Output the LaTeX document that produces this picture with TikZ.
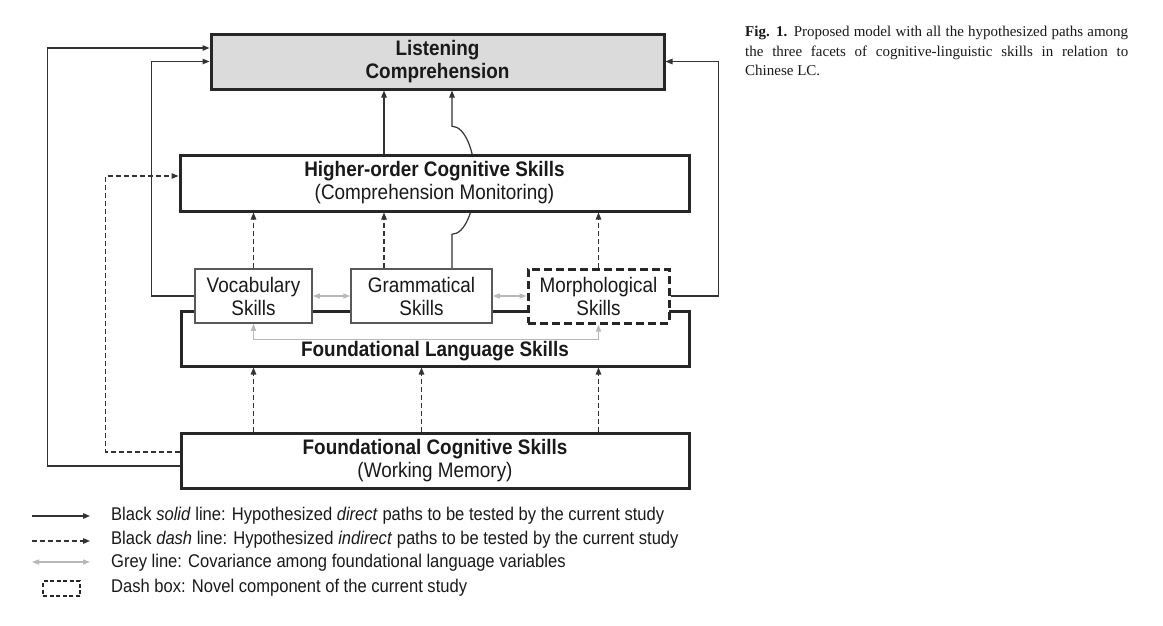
\documentclass[tikz,border=0pt]{standalone}
\usepackage{fontspec}
\setmainfont{Liberation Serif}
\newfontfamily\arialc[FakeStretch=0.9]{Liberation Sans}
\usetikzlibrary{arrows.meta}
\pgfdeclarelayer{bg}
\pgfsetlayers{bg,main}
\newcommand\mybxfont{\arialc\fontsize{21}{23}\selectfont}
\newcommand\mylgfont{\arialc\fontsize{18.4}{21}\selectfont}
\tikzset{
  tip/.tip={Triangle[length=7pt,width=5.5pt]},
  conn/.style={line width=1.2pt, draw=black!80, -tip},
  dconn/.style={conn, dash pattern=on 5pt off 3pt},
  gconn/.style={line width=1.3pt, draw=black!28, {Triangle[length=7pt,width=5pt]}-{Triangle[length=7pt,width=5pt]}},
  bigbox/.style={draw=black!85, line width=3pt, fill=white, inner sep=0pt, align=center, font=\mybxfont, text=black!90},
  smallbox/.style={draw=black!65, line width=1.5pt, fill=white, inner sep=0pt, align=center, font=\mybxfont, text=black!90, minimum height=54pt},
  novelbox/.style={smallbox, draw=black!85, line width=3pt, dash pattern=on 8pt off 4pt},
  lgtext/.style={anchor=west, inner sep=0pt, font=\mylgfont, text=black!90}
}
\begin{document}
\begin{tikzpicture}[x=1pt,y=-1pt]
\useasboundingbox (0,0) rectangle (1163,625);

% main boxes
\node[bigbox, fill=black!14, minimum width=453pt, minimum height=55pt] (LC) at (437.5,61.5) {\bfseries Listening\\\bfseries Comprehension};
\node[bigbox, minimum width=509pt, minimum height=56pt] (HO) at (434.5,183) {\bfseries Higher-order Cognitive Skills\\(Comprehension Monitoring)};
\node[bigbox, minimum width=508pt, minimum height=55pt] (FL) at (435,338.5) {};
\node[font=\mybxfont\bfseries, text=black!90, inner sep=0pt] (FLtext) at (435,351) {Foundational Language Skills};
\node[bigbox, minimum width=508pt, minimum height=55pt] (FC) at (435,460.5) {\bfseries Foundational Cognitive Skills\\(Working Memory)};

% language skill boxes
\node[smallbox, minimum width=117pt] (V) at (253.5,296) {Vocabulary\\Skills};
\node[smallbox, minimum width=141pt] (G) at (421.5,296) {Grammatical\\Skills};
\node[novelbox, minimum width=141pt] (M) at (598.5,296) {Morphological\\Skills};

% column coordinates
\coordinate (cG) at (384,0);
\coordinate (cJ) at (452,0);

% direct path from grammatical skills jumping over HO
\begin{pgfonlayer}{bg}
\draw[conn] (G.north -| cJ) -- ++(0,-34) arc[start angle=90, end angle=-90, x radius=23, y radius=54] -- (LC.south -| cJ);
\end{pgfonlayer}

% HO -> LC
\draw[conn] (HO.north -| cG) -- (LC.south -| cG);

% language skills -> HO (dashed)
\draw[dconn] (V.north) -- (HO.south -| V.north);
\draw[dconn] (G.north -| cG) -- (HO.south -| cG);
\draw[dconn] (M.north) -- (HO.south -| M.north);

% FC -> FL (dashed)
\draw[dconn] (FC.north -| V.north) -- (FL.south -| V.north);
\draw[dconn] (FC.north -| G.north) -- (FL.south -| G.north);
\draw[dconn] (FC.north -| M.north) -- (FL.south -| M.north);

% side paths
\draw[conn] ([yshift=-5.5pt]FC.west) -- ++(-132,0) |- ([yshift=13.5pt]LC.west);
\draw[dconn] ([yshift=8.5pt]FC.west) -- ++(-74,0) |- ([yshift=7pt]HO.west);
\draw[conn] (V.west) -- ++(-43,0) |- (LC.west);
\draw[conn] (M.east) -- ++(48,0) |- (LC.east);

% covariances
\draw[gconn] (V.east) -- (G.west);
\draw[gconn] (G.east) -- (M.west);
\draw[gconn] (V.south) -- ++(0,16) -| (M.south);

% legend
\coordinate (l1a) at (32,516); \coordinate (l1b) at (90,516);
\coordinate (l2a) at (32,541); \coordinate (l2b) at (90,541);
\coordinate (l3a) at (32,562); \coordinate (l3b) at (90,562);
\draw[conn] (l1a) -- (l1b);
\draw[dconn] (l2a) -- (l2b);
\draw[gconn] (l3a) -- (l3b);
\node[draw=black!85, line width=2pt, dash pattern=on 4pt off 2.5pt, minimum width=37pt, minimum height=15pt, inner sep=0pt] (l4) at (61.5,588.5) {};
\node[lgtext] (t1) at (111,516) {Black \textit{solid} line: Hypothesized \textit{direct} paths to be tested by the current study};
\node[lgtext] (t2) at (111,540) {Black \textit{dash} line: Hypothesized \textit{indirect} paths to be tested by the current study};
\node[lgtext] (t3) at (111,563) {Grey line: Covariance among foundational language variables};
\node[lgtext] (t4) at (111,588) {Dash box: Novel component of the current study};

% caption
\node[anchor=north west, text width=383pt, align=justify, inner sep=0pt, font=\fontsize{15}{19.5}\selectfont, text=black!90] (cap) at (745,26)
 {\textbf{Fig. 1.} Proposed model with all the hypothesized paths among\linebreak the three facets of cognitive-linguistic skills in relation to\linebreak Chinese LC.};
\end{tikzpicture}
\end{document}
